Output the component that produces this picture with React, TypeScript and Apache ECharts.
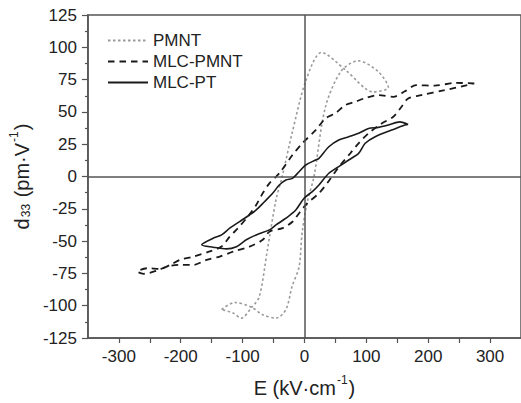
import React, { useEffect, useRef } from 'react';
import * as echarts from 'echarts';

const seriesNames = ['PMNT', 'MLC-PMNT', 'MLC-PT'];
const xLabelValues = [-300, -200, -100, 0, 100, 200, 300];
const xTickValues = [-300, -250, -200, -150, -100, -50, 0, 50, 100, 150, 200, 250, 300];

// PMNT loop (E in kV/cm, d33 in pm/V)
const pmntE = [-134, -113, -86, -67.5, -46, -30, -20, -8.7, -3.8, 4.2, 15.4, 34, 60, 87.5, 119.5, 135.6,
  111.5, 66.7, 27.7, 2.6, -20, -36, -46, -60, -73, -86, -102, -116, -134];
const pmntD = [-103, -97.5, -101, -107, -109.6, -103, -85, -70, -43.7, -20.5, 0, 54, 82, 89.5, 81, 69,
  65.5, 82.3, 96, 74.6, 33.6, 0, -18, -57, -93, -101.6, -109.6, -105.5, -103];

// MLC-PMNT loop
const mlcPmntE = [274.5, 244.6, 210.4, 180.4, 162.3, 143.6, 119.6, 98.2, 82.2, 66.2, 50.2, 34.1, 18.1, -3.4,
  -19.4, -40.7, -56.7, -67.5, -78, -91.5, -107.5, -120.8, -134, -153, -179.6, -201, -217, -233, -254, -270,
  -259.8, -238.3, -222.3, -201, -179.6, -158.2, -136.9, -115.5, -88.8, -67.5, -56.7, -35.4, -19.4, -8.7,
  4.6, 23.4, 39.4, 55.4, 74.2, 87.5, 103.5, 124.8, 143.6, 156.9, 167.6, 189, 226.4, 274.5];
const mlcPmntD = [72, 72.5, 70.3, 70.7, 66, 61.7, 63, 60.7, 57.8, 55.3, 49, 45, 35.9, 25.7,
  16.6, 2.5, -5.3, -13, -22, -31, -40, -46.5, -54.2, -58, -62, -64.5, -68.4, -71.5, -71, -73.6,
  -75.3, -72.8, -69.7, -68.4, -68.4, -64.5, -62, -58.1, -54.3, -49, -42.7, -40, -35, -28.4,
  -20.7, -13, -3.5, 7.3, 18, 25.7, 33.4, 41, 46.2, 54, 60.4, 63, 66.8, 72];

// MLC-PT loop
const mlcPtE = [167.6, 154.3, 135.6, 119.6, 103.5, 87.5, 71.5, 55.4, 39.4, 23.4, 18.1, 2.1, -8.7, -19.4,
  -30, -40.7, -51.4, -64.7, -78, -88.8, -104.8, -120.8, -134, -147.6, -166,
  -147.6, -126, -110, -94, -78, -56.7, -46, -30, -14, -0.6, 12.7, 23.4, 39.4, 55.4, 71.5, 87.5, 98.2,
  114.3, 140.9, 162.3, 167.6];
const mlcPtD = [40.2, 42.3, 39.8, 38, 37.2, 33.4, 30.8, 28.2, 23, 14, 12.8, 8.9, 3.7, -1.4,
  -2.7, -6.6, -13, -19.5, -25.9, -29.8, -34.9, -40, -45.2, -47.8, -52.9,
  -54.7, -56, -54.3, -49, -45.2, -41.3, -37.5, -32.3, -25.9, -16.8, -11.7, -6.6, 2.5, 7.6, 12.8, 17.9, 25.7,
  30.8, 35.9, 39.8, 40.2];

const zip = (xs: number[], ys: number[]) => xs.map((x, i) => [x, ys[i]]);

const FONT = '"Liberation Sans", Arial, sans-serif';
const AXIS_COLOR = '#555';
const TEXT_COLOR = '#222';

export default function App() {
  const ref = useRef<HTMLDivElement>(null);
  useEffect(() => {
    document.body.style.margin = '0';
    if (!ref.current) return;
    const chart = echarts.init(ref.current, null, { renderer: 'svg' });
    chart.setOption({
      animation: false,
      backgroundColor: '#fff',
      textStyle: { fontFamily: FONT },
      grid: {
        left: 87, top: 15, right: -3, bottom: 64.5,
        show: true, borderColor: AXIS_COLOR, borderWidth: 1.5, backgroundColor: 'transparent',
      },
      legend: {
        left: 102, top: 27, orient: 'vertical', itemWidth: 40, itemHeight: 14, itemGap: 4,
        textStyle: { fontSize: 17, color: TEXT_COLOR, fontFamily: FONT, lineHeight: 17 },
        itemStyle: { opacity: 0 },
        data: seriesNames,
      },
      xAxis: {
        type: 'value', min: -350, max: 350,
        name: '{t|E (kV·cm}{sup|-1}{t|)}',
        nameLocation: 'middle', nameGap: 36,
        nameTextStyle: {
          rich: {
            t: { fontSize: 20, color: TEXT_COLOR, fontFamily: FONT, lineHeight: 24, verticalAlign: 'bottom' },
            sup: { fontSize: 12, color: TEXT_COLOR, fontFamily: FONT, verticalAlign: 'top', lineHeight: 24, padding: [0, 1, 9, 1] },
          },
        },
        axisLine: { show: true, onZero: false, lineStyle: { color: AXIS_COLOR, width: 1.5 } },
        axisTick: { show: true, inside: false, length: 5, customValues: xTickValues, lineStyle: { color: AXIS_COLOR, width: 1.2 } },
        axisLabel: { customValues: xLabelValues, fontSize: 17, color: TEXT_COLOR, margin: 10, fontFamily: FONT },
        splitLine: { show: false },
      },
      yAxis: {
        type: 'value', min: -125, max: 125, interval: 25,
        name: '{t|d}{sub|33}{t| (pm·V}{sup|-1}{t|)}',
        nameLocation: 'middle', nameGap: 52, nameRotate: 90,
        nameTextStyle: {
          rich: {
            t: { fontSize: 20, color: TEXT_COLOR, fontFamily: FONT, lineHeight: 24, verticalAlign: 'bottom' },
            sub: { fontSize: 12, color: TEXT_COLOR, fontFamily: FONT, verticalAlign: 'bottom', lineHeight: 24, padding: [7, 1, 0, 1] },
            sup: { fontSize: 12, color: TEXT_COLOR, fontFamily: FONT, verticalAlign: 'top', lineHeight: 24, padding: [0, 1, 9, 1] },
          },
        },
        axisLine: { show: true, onZero: false, lineStyle: { color: AXIS_COLOR, width: 1.5 } },
        axisTick: { show: true, inside: false, length: 6, lineStyle: { color: AXIS_COLOR, width: 1.2 } },
        minorTick: { show: true, splitNumber: 2, length: 3, lineStyle: { color: AXIS_COLOR, width: 1.2 } },
        axisLabel: { fontSize: 17, color: TEXT_COLOR, margin: 11, fontFamily: FONT },
        splitLine: { show: false },
      },
      series: [
        {
          name: seriesNames[0], type: 'line', data: zip(pmntE, pmntD), symbol: 'none', smooth: 0.3,
          lineStyle: { color: '#9a9a9a', width: 1.6, type: [2.5, 2.5] }, itemStyle: { color: '#9a9a9a' },
          markLine: {
            silent: true, symbol: 'none', label: { show: false },
            lineStyle: { color: AXIS_COLOR, width: 1.5, type: 'solid' },
            data: [{ xAxis: 0 }, { yAxis: 0 }],
          },
          z: 3,
        },
        {
          name: seriesNames[1], type: 'line', data: zip(mlcPmntE, mlcPmntD), symbol: 'none', smooth: 0.3,
          lineStyle: { color: '#1a1a1a', width: 1.8, type: [6.5, 5] }, itemStyle: { color: '#1a1a1a' }, z: 4,
        },
        {
          name: seriesNames[2], type: 'line', data: zip(mlcPtE, mlcPtD), symbol: 'none', smooth: 0.3,
          lineStyle: { color: '#1a1a1a', width: 1.6, type: 'solid' }, itemStyle: { color: '#1a1a1a' }, z: 5,
        },
      ],
    });
    return () => chart.dispose();
  }, []);
  return <div ref={ref} style={{ width: 521, height: 403 }} />;
}
